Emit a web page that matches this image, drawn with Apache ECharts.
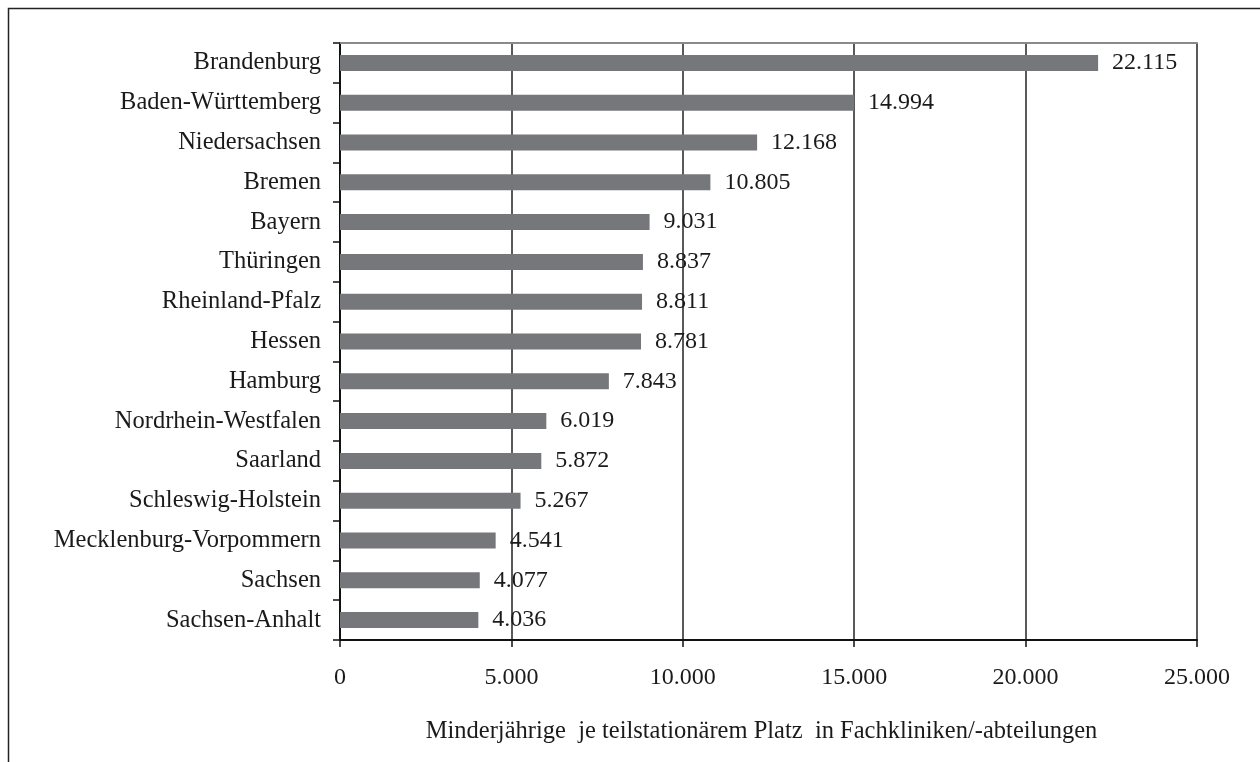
<!DOCTYPE html>
<html>
<head>
<meta charset="utf-8">
<script src="https://cdn.jsdelivr.net/npm/echarts@6/dist/echarts.min.js"></script>
<style>
  html, body { margin: 0; padding: 0; background: #fff; }
  #chart { width: 1260px; height: 762px; }
</style>
</head>
<body>
<div id="chart"></div>
<script>
// Bundesländer, sortiert wie im Original (größter Wert oben)
const laender = [
  "Brandenburg", "Baden-Württemberg", "Niedersachsen", "Bremen", "Bayern",
  "Thüringen", "Rheinland-Pfalz", "Hessen", "Hamburg", "Nordrhein-Westfalen",
  "Saarland", "Schleswig-Holstein", "Mecklenburg-Vorpommern", "Sachsen", "Sachsen-Anhalt"
];
const werte = [
  22115, 14994, 12168, 10805, 9031,
  8837, 8811, 8781, 7843, 6019,
  5872, 5267, 4541, 4077, 4036
];
const achsenMax = 25000;
const achsenSchritt = 5000;
const achsenTitel = "Minderjährige  je teilstationärem Platz  in Fachkliniken/-abteilungen";

const schrift = "'Liberation Serif', 'DejaVu Serif', serif";
const textFarbe = "#1a1a1a";

// Zahl mit Punkt als Tausendertrennzeichen
function deFormat(v) {
  return String(Math.round(v)).replace(/\B(?=(\d{3})+(?!\d))/g, ".");
}

const myChart = echarts.init(document.getElementById("chart"), null, { renderer: "canvas" });

const option = {
  animation: false,
  backgroundColor: "#fff",
  grid: { left: 340, right: 63, top: 43, bottom: 122, containLabel: false },
  graphic: [
    {
      type: "rect",
      left: 6, top: 6,
      shape: { width: 1300, height: 800 },
      style: { fill: "none", stroke: "#222", lineWidth: 1.5 },
      silent: true
    }
  ],
  xAxis: [
    {
      type: "value",
      min: 0,
      max: achsenMax,
      interval: achsenSchritt,
      position: "bottom",
      name: achsenTitel,
      nameLocation: "middle",
      nameGap: 79,
      nameTextStyle: {
        fontFamily: schrift,
        fontSize: 24.5,
        color: textFarbe,
        padding: [0, 14, 0, 0]
      },
      axisLine: { show: true, lineStyle: { color: "#111", width: 2 } },
      axisTick: { show: true, length: 7, lineStyle: { color: "#111", width: 1.5 } },
      axisLabel: {
        margin: 26,
        fontFamily: schrift,
        fontSize: 24,
        color: textFarbe,
        formatter: deFormat
      },
      splitLine: { show: true, lineStyle: { color: "#222", width: 1.5 } }
    },
    {
      type: "value",
      min: 0,
      max: achsenMax,
      position: "top",
      axisLine: { show: true, lineStyle: { color: "#8a8a8a", width: 2 } },
      axisTick: { show: false },
      axisLabel: { show: false },
      splitLine: { show: false }
    }
  ],
  yAxis: {
    type: "category",
    data: laender,
    inverse: true,
    axisLine: { show: true, lineStyle: { color: "#111", width: 2 } },
    axisTick: { show: true, length: 7, lineStyle: { color: "#111", width: 1.5 } },
    axisLabel: {
      margin: 19,
      fontFamily: schrift,
      fontSize: 24.5,
      color: textFarbe
    }
  },
  series: [
    {
      type: "bar",
      data: werte,
      barWidth: 16,
      itemStyle: { color: "#76777b" },
      label: {
        show: true,
        position: "right",
        distance: 14,
        fontFamily: schrift,
        fontSize: 24,
        color: textFarbe,
        formatter: p => deFormat(p.value)
      }
    }
  ]
};

myChart.setOption(option);
</script>
</body>
</html>
